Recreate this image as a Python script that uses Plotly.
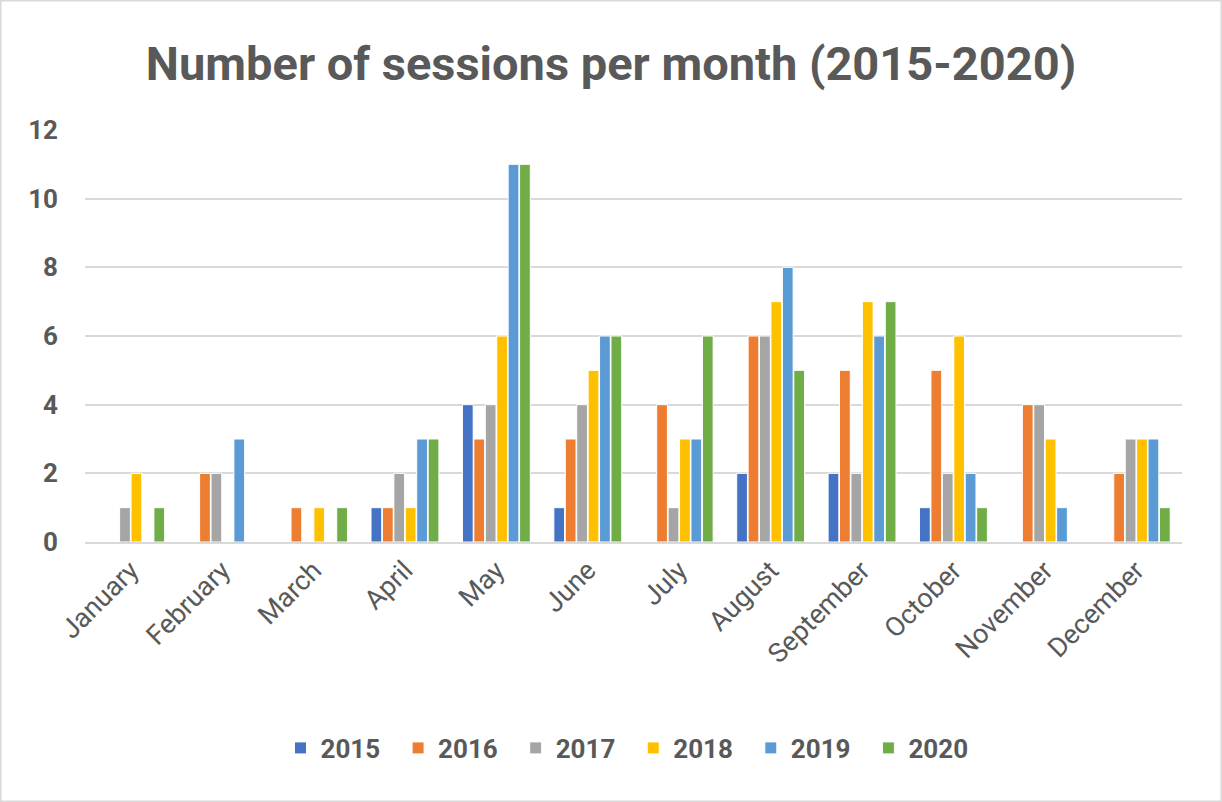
import plotly.graph_objects as go

months = ["January", "February", "March", "April", "May", "June", "July",
          "August", "September", "October", "November", "December"]
years = ["2015", "2016", "2017", "2018", "2019", "2020"]
s2015 = [0, 0, 0, 1, 4, 1, 0, 2, 2, 1, 0, 0]
s2016 = [0, 2, 1, 1, 3, 3, 4, 6, 5, 5, 4, 2]
s2017 = [1, 2, 0, 2, 4, 4, 1, 6, 2, 2, 4, 3]
s2018 = [2, 0, 1, 1, 6, 5, 3, 7, 7, 6, 3, 3]
s2019 = [0, 3, 0, 3, 11, 6, 3, 8, 6, 2, 1, 3]
s2020 = [1, 0, 1, 3, 11, 6, 6, 5, 7, 1, 0, 1]
series = [s2015, s2016, s2017, s2018, s2019, s2020]
colors = ["#4472C4", "#ED7D31", "#A5A5A5", "#FFC000", "#5B9BD5", "#70AD47"]
y_ticks = [0, 2, 4, 6, 8, 10, 12]

fig = go.Figure()
for name, vals, col in zip(years, series, colors):
    fig.add_trace(go.Bar(x=months, y=vals, name="<b>" + name + "</b>\u00a0\u00a0",
                         marker=dict(color=col, line=dict(color="white", width=1))))

fig.update_layout(
    width=1222, height=802,
    paper_bgcolor="white", plot_bgcolor="white",
    margin=dict(l=85, r=40, t=130, b=260),
    barmode="group", bargap=0.25, bargroupgap=0.06,
    title=dict(text="<b>Number of sessions per month (2015-2020)</b>",
               x=0.5, xanchor="center", y=1 - 64 / 802, yanchor="middle",
               font=dict(family="Roboto", size=47, color="#595959")),
    font=dict(family="Roboto", color="#595959"),
    legend=dict(orientation="h", x=0.5, xanchor="center", y=-0.5, yanchor="middle",
                font=dict(family="Roboto", size=26, color="#595959"),
                itemwidth=30, traceorder="normal"),
    shapes=[dict(type="rect", xref="paper", yref="paper",
                 x0=-85 / 1097, x1=1 + 40 / 1097, y0=-260 / 412, y1=1 + 130 / 412,
                 line=dict(color="#D9D9D9", width=3), fillcolor="rgba(0,0,0,0)")],
)
fig.update_yaxes(range=[0, 12], tickvals=y_ticks,
                 ticktext=["<b>%d</b>" % v for v in y_ticks],
                 tickfont=dict(family="Roboto", size=26, color="#595959"),
                 showgrid=True, gridcolor="#D9D9D9", gridwidth=1.5,
                 zeroline=False, showline=False, ticklabelstandoff=26)
fig.update_xaxes(tickangle=-45, tickfont=dict(family="Roboto", size=27, color="#595959"),
                 showline=True, linecolor="#D9D9D9", linewidth=1.5, ticks="")

fig.write_html("out.html", config={"displayModeBar": False},
               post_script="document.body.style.margin='0';document.body.style.overflow='hidden';")
